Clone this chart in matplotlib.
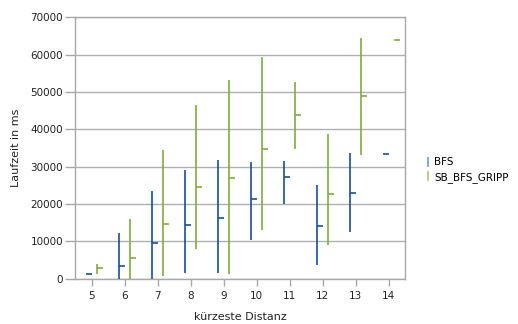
import numpy as np
import matplotlib.pyplot as plt
from matplotlib.lines import Line2D

# Laufzeiten je kürzester Distanz: Minimum, Maximum, Mittelwert (ms)
distanz = [5, 6, 7, 8, 9, 10, 11, 12, 13, 14]

bfs_min = [1250, 0, 0, 1610, 1610, 10450, 19910, 3660, 12410, 33300]
bfs_max = [1250, 12230, 23480, 29110, 31700, 31250, 31520, 25000, 33570, 33300]
bfs_mid = [1250, 3390, 9460, 14290, 16250, 21250, 27320, 14200, 23040, 33300]

gripp_min = [1250, 0, 710, 8040, 1250, 13040, 34820, 8930, 33210, 63840]
gripp_max = [3930, 15890, 34460, 46430, 53210, 59460, 52590, 38750, 64460, 63840]
gripp_mid = [2770, 5625, 14730, 24640, 27050, 34820, 43930, 22680, 48840, 63840]

blue = '#15509a'
green = '#7eae3e'
grey = '#a8a8a8'

fig = plt.figure(figsize=(5.18, 3.24), dpi=100)
ax = fig.add_axes([0.1448, 0.1398, 0.6371, 0.8062])

x = np.asarray(distanz, dtype=float)
off = 0.17

ax.vlines(x - off, bfs_min, bfs_max, color=blue, lw=1.2, zorder=3)
ax.hlines(bfs_mid, x - off, x, color=blue, lw=1.2, zorder=3)
ax.vlines(x + off, gripp_min, gripp_max, color=green, lw=1.2, zorder=3)
ax.hlines(gripp_mid, x + off, x + 2 * off, color=green, lw=1.2, zorder=3)

ax.set_xlim(4.5, 14.5)
ax.set_ylim(0, 70000)
ax.set_xticks(distanz)
ax.set_yticks(range(0, 70001, 10000))
ax.grid(axis='y', color='#b0b0b0', lw=1)
ax.set_axisbelow(True)

for s in ax.spines.values():
    s.set_color(grey)
    s.set_linewidth(1.0)
ax.tick_params(colors=grey, labelcolor='#222222', labelsize=7.5, width=1)
ax.tick_params(axis='y', length=7, pad=1.5)
ax.tick_params(axis='x', length=5, pad=4)

ax.set_xlabel('kürzeste Distanz', fontsize=8, color='#222222', labelpad=8)
ax.set_ylabel('Laufzeit in ms', fontsize=8, color='#222222', labelpad=7)

handles = [Line2D([], [], color=c, marker='|', ls='none', markersize=7, mew=1.2)
           for c in ('#6f9bd0', '#aacb7f')]
fig.legend(handles, ['BFS', 'SB_BFS_GRIPP'], loc='center left',
           bbox_to_anchor=(0.802, 0.475), frameon=False, fontsize=7.5,
           handlelength=0.6, handletextpad=0.3, labelspacing=0.45)

fig.savefig('out.png', dpi=100)
